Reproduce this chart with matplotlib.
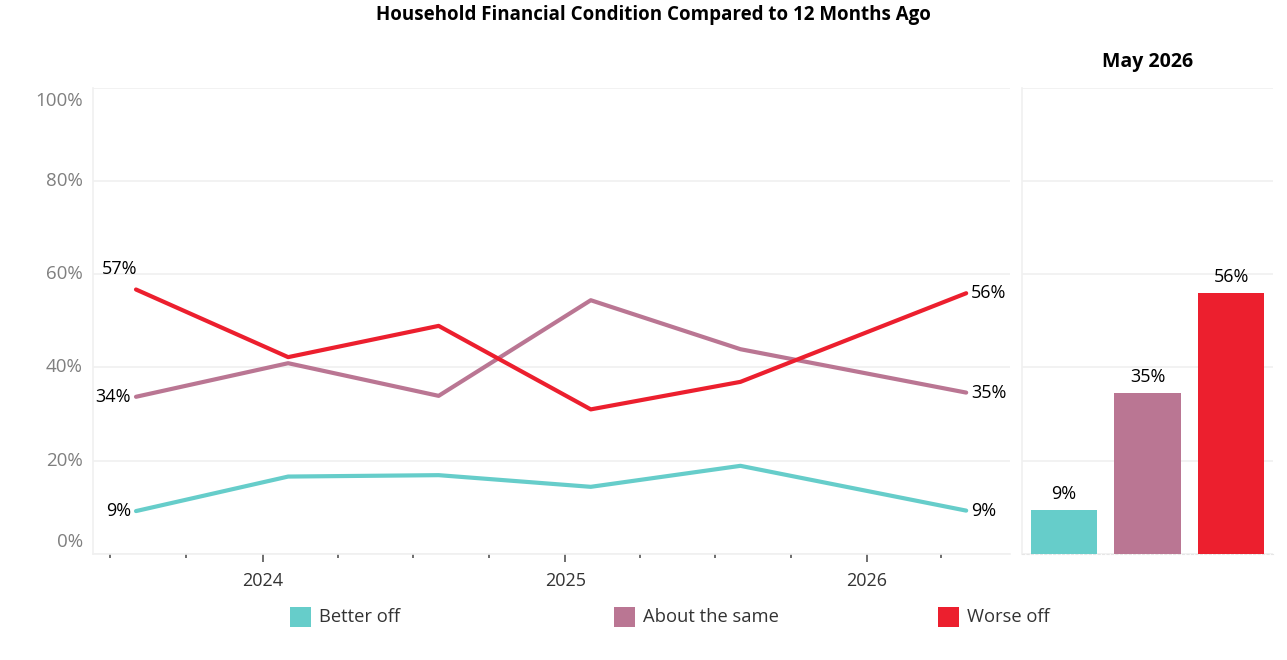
import matplotlib
matplotlib.use("Agg")
import matplotlib.pyplot as plt
import matplotlib.dates as mdates
import matplotlib.transforms as mtransforms
from matplotlib.patches import Rectangle
import pandas as pd

# ---------------- data ----------------
survey_dates = ["2023-08-01", "2024-02-01", "2024-08-01", "2025-02-01", "2025-08-01", "2026-05-01"]
series_names = ["Better off", "About the same", "Worse off"]
better_off = [9.2, 16.6, 16.9, 14.4, 18.9, 9.3]
about_same = [33.7, 40.9, 33.9, 54.4, 43.9, 34.6]
worse_off = [56.7, 42.2, 48.9, 31.0, 36.9, 55.9]
latest_label = "May 2026"
latest_values = [9.4, 34.6, 56.0]
y_ticks = [0, 20, 40, 60, 80, 100]
y_tick_labels = ["0%", "20%", "40%", "60%", "80%", "100%"]
title = "Household Financial Condition Compared to 12 Months Ago"

colors = ["#66cdca", "#ba7693", "#ec1f2e"]

plt.rcParams["font.family"] = ["Open Sans", "DejaVu Sans"]

W, H = 1287, 660
fig = plt.figure(figsize=(W / 100, H / 100), dpi=100)

def fx(px):
    return px / W

def fy(py):
    return 1 - py / H

grid_c = "#f0f0f0"
tick_label_c = "#7f7f7f"
text_c = "#333333"

# ---------------- line panel ----------------
ax = fig.add_axes([fx(93), fy(554), fx(1010) - fx(93), fy(87.5) - fy(554)])
dates = pd.to_datetime(survey_dates)
all_series = [better_off, about_same, worse_off]
for vals, col in zip(all_series, colors):
    ax.plot(dates, vals, color=col, lw=3, solid_capstyle="round", solid_joinstyle="round", zorder=3)

ax.set_xlim(pd.Timestamp("2023-06-10"), pd.Timestamp("2026-06-23"))
ax.set_ylim(0, 100)
ax.set_yticks(y_ticks)
ax.set_yticklabels([])
ax.tick_params(axis="y", length=0)
ax.yaxis.grid(True, color=grid_c, lw=1.2)
ax.set_axisbelow(True)

ax.xaxis.set_major_locator(mdates.YearLocator())
ax.xaxis.set_major_formatter(mdates.DateFormatter("%Y"))
ax.xaxis.set_minor_locator(mdates.MonthLocator(bymonth=[1, 4, 7, 10]))
ax.tick_params(axis="x", which="major", length=6, width=1.2, color="#555555", pad=7,
               labelsize=13, labelcolor=text_c)
ax.tick_params(axis="x", which="minor", length=3, width=1.2, color="#555555")

for s in ["top", "right"]:
    ax.spines[s].set_visible(False)
for s in ["left", "bottom"]:
    ax.spines[s].set_color(grid_c)
    ax.spines[s].set_linewidth(1.2)

# y tick labels (Tableau style: outer labels nudged inward)
for v, lab in zip(y_ticks, y_tick_labels):
    dy = 0
    if v == y_ticks[0]:
        dy = 12
    elif v == y_ticks[-1]:
        dy = -14
    tr = mtransforms.blended_transform_factory(ax.transAxes, ax.transData) + \
        mtransforms.ScaledTranslation(-10 / 100, dy / 100, fig.dpi_scale_trans)
    ax.text(0, v, lab, transform=tr, ha="right", va="center", fontsize=13.5, color=tick_label_c)

# data labels: first and last points
def offset(dx, dy):
    return ax.transData + mtransforms.ScaledTranslation(dx / 100, dy / 100, fig.dpi_scale_trans)

for i, vals in enumerate(all_series):
    first = f"{round(vals[0])}%"
    last = f"{round(vals[-1])}%"
    if i == 2:
        ax.text(dates[0], vals[0], first, transform=offset(1, 11), ha="right", va="bottom",
                fontsize=13, color="black")
    else:
        ax.text(dates[0], vals[0], first, transform=offset(-5, 0), ha="right", va="center",
                fontsize=13, color="black")
    ax.text(dates[-1], vals[-1], last, transform=offset(5, 0), ha="left", va="center",
            fontsize=13, color="black")

# ---------------- bar panel ----------------
bx = fig.add_axes([fx(1022), fy(554), fx(1273) - fx(1022), fy(87.5) - fy(554)])
xpos = list(range(len(latest_values)))
bars = bx.bar(xpos, latest_values, width=0.79, color=colors, zorder=3)
bx.set_xlim(-0.5, len(latest_values) - 0.5)
bx.set_ylim(0, 100)
bx.set_yticks(y_ticks)
bx.set_yticklabels([])
bx.set_xticks([])
bx.tick_params(axis="y", length=0)
bx.yaxis.grid(True, color=grid_c, lw=1.2)
bx.set_axisbelow(True)
for s in ["top", "right"]:
    bx.spines[s].set_visible(False)
bx.spines["left"].set_color(grid_c)
bx.spines["left"].set_linewidth(1.2)
bx.spines["bottom"].set_color("#e6e6e6")
bx.spines["bottom"].set_linestyle((0, (2, 2)))
for xp, v in zip(xpos, latest_values):
    bx.annotate(f"{round(v)}%", (xp, v), xytext=(0, 5), textcoords="offset points",
                ha="center", va="bottom", fontsize=13, color="black")
bx.set_title(latest_label, fontsize=14, fontweight="bold", color="black", pad=15)

# ---------------- title ----------------
fig.text(0.508, fy(15), title, ha="center", va="center", fontsize=13.5, fontweight="bold", color="black")

# ---------------- legend ----------------
legend_x = [290, 614, 938]
for name, col, lx in zip(series_names, colors, legend_x):
    fig.add_artist(Rectangle((fx(lx), fy(627)), fx(21), fy(607) - fy(627),
                             transform=fig.transFigure, facecolor=col, edgecolor="none"))
    fig.text(fx(lx + 29), fy(617), name, ha="left", va="center", fontsize=13.2, color=text_c)

fig.savefig("out.png", dpi=100)
